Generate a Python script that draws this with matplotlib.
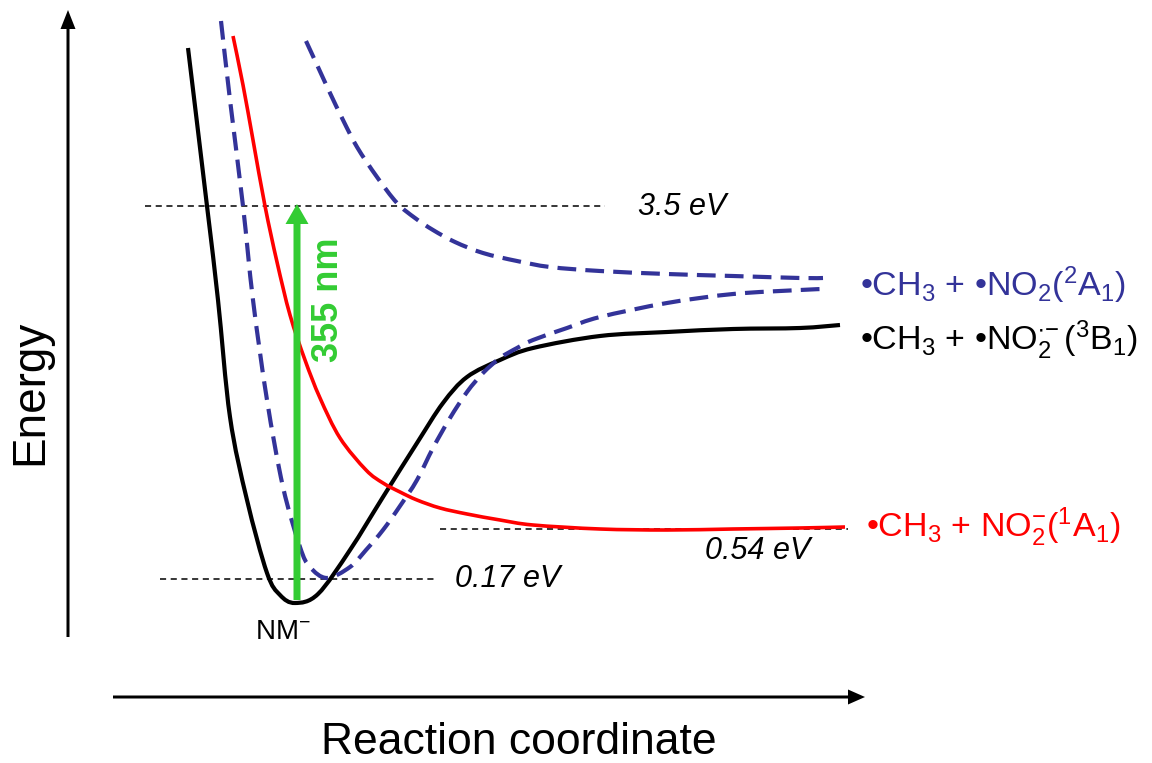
import matplotlib
matplotlib.use("Agg")
import numpy as np
import matplotlib.pyplot as plt
from matplotlib.patches import FancyArrow, PathPatch
from matplotlib.path import Path

plt.rcParams['font.family'] = ['Liberation Sans', 'DejaVu Sans']
plt.rcParams['mathtext.fontset'] = 'custom'
plt.rcParams['mathtext.rm'] = 'Liberation Sans'
plt.rcParams['mathtext.it'] = 'Liberation Sans:italic'
plt.rcParams['mathtext.bf'] = 'Liberation Sans:bold'

# potential curves, (reaction coordinate, energy) in canvas units (axis is flipped)
anion_x = [188, 207, 218, 230, 247, 267, 280, 295, 318, 350, 383,
           417, 443, 467, 500, 533, 600, 667, 733, 800, 840]
anion_y = [48, 206, 300, 417, 500, 573, 595, 603, 594, 550, 497,
           443, 403, 377, 360, 348, 336, 332, 329, 328, 325]

closed_x = [233, 243, 253, 265, 277, 290, 305, 320, 340, 366, 383,
            400, 417, 440, 467, 500, 533, 600, 667, 733, 800, 845]
closed_y = [36, 85, 140, 206, 262, 315, 360, 398, 438, 470, 483,
            492, 500, 508, 514, 520, 525, 529, 530, 529, 528, 527]

neutral_low_x = [221, 230, 243, 253, 267, 283, 300, 310, 327, 350, 366,
                 383, 400, 417, 433, 450, 467, 483, 500, 517, 533, 567, 600, 667, 733,
                 800, 823]
neutral_low_y = [21, 100, 206, 300, 400, 487, 547, 567, 578, 567, 550,
                 530, 506, 480, 448, 418, 392, 373, 358, 348, 340, 328, 317, 303, 294,
                 290, 289]

neutral_high_x = [306, 318, 330, 343, 357, 377, 397, 415, 433, 455, 483, 517, 550, 600,
                  667, 733, 800, 823]
neutral_high_y = [41, 67, 93, 120, 147, 177, 203, 218, 230, 242, 253, 261, 267, 271,
                  274, 276, 278, 278]

# reference energy levels: (y, x start, x end, label, label x, label y)
levels = [(206, 145, 605, '3.5 eV', 638, 207),
          (579, 160, 435, '0.17 eV', 455, 579),
          (529, 440, 848, '0.54 eV', 705, 551)]

# excitation arrow
photon_x = 297
photon_y0, photon_y1 = 600, 204

asymptotes = [('•CH$_3$ + •NO$_2$($^2$A$_1$)', 860, 285, '#333399'),
              ('•CH$_3$ + •NO$_2^{\\bullet\\!-}$($^3$B$_1$)', 860, 340, 'black'),
              ('•CH$_3$ + NO$_2^{-}$($^1$A$_1$)', 866, 527, '#ff0000')]


def smooth_path(xs, ys):
    # Catmull-Rom through the points, written as cubic Bezier segments
    p = np.column_stack([xs, ys]).astype(float)
    p = np.vstack([p[0], p, p[-1]])
    verts = [p[1]]
    codes = [Path.MOVETO]
    for i in range(1, len(p) - 2):
        c1 = p[i] + (p[i + 1] - p[i - 1]) / 6
        c2 = p[i + 1] - (p[i + 2] - p[i]) / 6
        verts += [c1, c2, p[i + 1]]
        codes += [Path.CURVE4] * 3
    return Path(verts, codes)


W, H = 1152, 763
fig = plt.figure(figsize=(W / 100, H / 100), dpi=100)
ax = fig.add_axes([0, 0, 1, 1])
ax.set_xlim(0, W)
ax.set_ylim(H, 0)
ax.axis('off')

blue = '#333399'
curves = [(anion_x, anion_y, 'black', 3, '-'),
          (closed_x, closed_y, '#ff0000', 2.6, '-'),
          (neutral_low_x, neutral_low_y, blue, 3, (0, (4.5, 2.2))),
          (neutral_high_x, neutral_high_y, blue, 3, (0, (4.5, 2.2)))]
for xs, ys, c, lw, ls in curves:
    ax.add_patch(PathPatch(smooth_path(xs, ys), fill=False, edgecolor=c, lw=lw,
                           ls=ls, capstyle='butt', zorder=3))

for y, x0, x1, lab, lx, ly in levels:
    ax.plot([x0, x1], [y, y], color='black', lw=1.1, ls=(0, (4, 3)), zorder=2)
    ax.text(lx, ly, lab, fontsize=22, style='italic', ha='left', va='center')

ax.add_patch(FancyArrow(photon_x, photon_y0, 0, photon_y1 - photon_y0, width=7,
                        head_width=23, head_length=20, length_includes_head=True,
                        color='#33cc33', lw=0, zorder=4))
ax.text(328, 300, '355 nm', color='#33cc33', fontsize=26, fontweight='bold',
        rotation=90, ha='center', va='center')

ax.text(283, 632, 'NM$^{-}$', fontsize=20, ha='center', va='center')

for lab, x, y, c in asymptotes:
    ax.text(x, y, lab, color=c, fontsize=24.5, ha='left', va='center')

# axes drawn as arrows
ax.add_patch(FancyArrow(68, 637, 0, -627, width=3, head_width=15, head_length=19,
                        length_includes_head=True, color='black', lw=0))
ax.add_patch(FancyArrow(113, 697, 752, 0, width=3, head_width=15, head_length=17,
                        length_includes_head=True, color='black', lw=0))
ax.text(30, 392, 'Energy', fontsize=33, rotation=90, ha='center', va='center')
ax.text(519, 742, 'Reaction coordinate', fontsize=32, ha='center', va='center')

fig.savefig('out.png', dpi=100)
